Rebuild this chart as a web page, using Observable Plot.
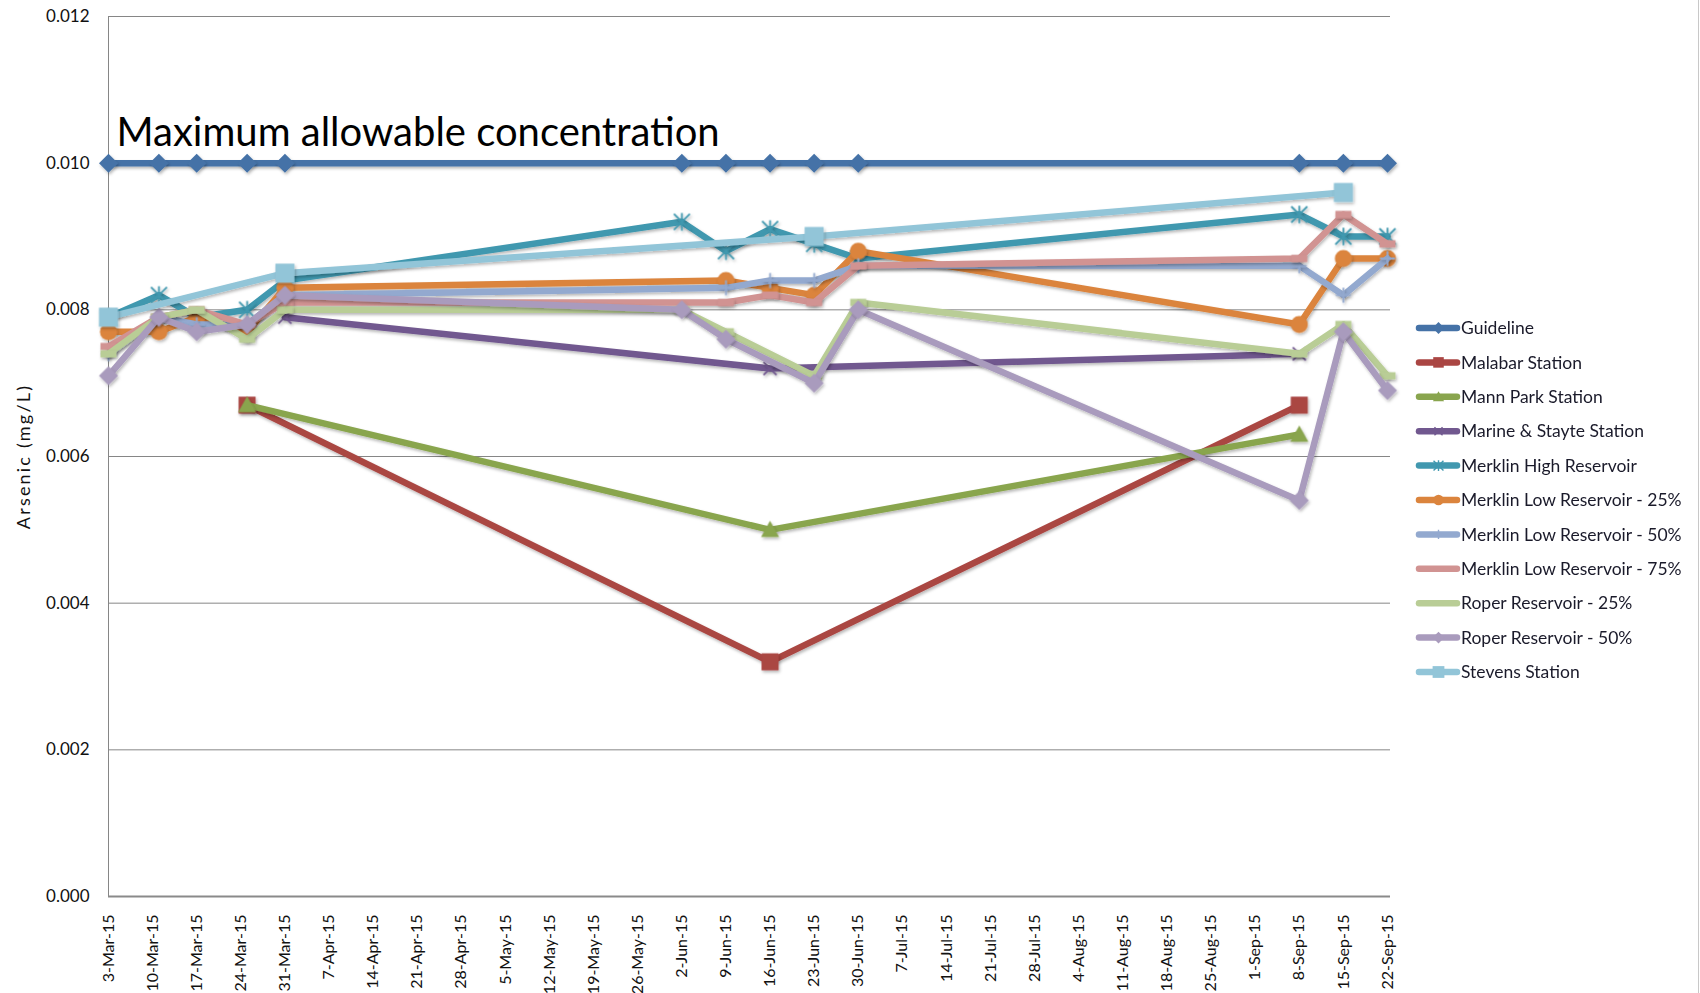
<!DOCTYPE html>
<html>
<head>
<meta charset="utf-8">
<script src="https://cdn.jsdelivr.net/npm/d3@7"></script>
<script src="https://cdn.jsdelivr.net/npm/@observablehq/plot@0.6"></script>
<style>
  html, body { margin: 0; padding: 0; background: #ffffff; }
  #chart { position: relative; width: 1700px; height: 993px; overflow: hidden; }
  svg { display: block; }
</style>
</head>
<body>
<div id="chart"></div>
<script>
// Sampling dates (arsenic measurements, 2015)
const sampleDates = ["2015-03-03", "2015-03-11", "2015-03-17", "2015-03-25", "2015-03-31",
  "2015-06-02", "2015-06-09", "2015-06-16", "2015-06-23", "2015-06-30",
  "2015-09-08", "2015-09-15", "2015-09-22"];

// Arsenic (mg/L) per site, one value per sampling date (null = not sampled)
const guideline      = [0.010, 0.010, 0.010, 0.010, 0.010, 0.010, 0.010, 0.010, 0.010, 0.010, 0.010, 0.010, 0.010];
const malabar        = [null, null, null, 0.0067, null, null, null, 0.0032, null, null, 0.0067, null, null];
const mannPark       = [null, null, null, 0.0067, null, null, null, 0.0050, null, null, 0.0063, null, null];
const marineStayte   = [null, null, null, null, 0.0079, null, null, 0.0072, null, null, 0.0074, null, null];
const merklinHigh    = [0.0079, 0.0082, 0.0079, 0.0080, 0.0084, 0.0092, 0.0088, 0.0091, 0.0089, 0.0087, 0.0093, 0.0090, 0.0090];
const merklinLow25   = [0.0077, 0.0077, 0.0079, 0.0077, 0.0083, null, 0.0084, 0.0083, 0.0082, 0.0088, 0.0078, 0.0087, 0.0087];
const merklinLow50   = [0.0074, 0.0079, 0.0078, 0.0078, 0.0082, null, 0.0083, 0.0084, 0.0084, 0.0086, 0.0086, 0.0082, 0.0087];
const merklinLow75   = [0.0075, 0.0079, 0.0080, 0.0078, 0.0081, null, 0.0081, 0.0082, 0.0081, 0.0086, 0.0087, 0.0093, 0.0089];
const roper25        = [0.0074, 0.0079, 0.0080, 0.0076, 0.0080, 0.0080, 0.0077, null, 0.0071, 0.0081, 0.0074, 0.0078, 0.0071];
const roper50        = [0.0071, 0.0079, 0.0077, 0.0078, 0.0082, 0.0080, 0.0076, null, 0.0070, 0.0080, 0.0054, 0.0077, 0.0069];
const stevens        = [0.0079, null, null, null, 0.0085, null, null, null, 0.0090, null, null, 0.0096, null];

// Axis ticks
const xTickLabels = ["3-Mar-15", "10-Mar-15", "17-Mar-15", "24-Mar-15", "31-Mar-15", "7-Apr-15", "14-Apr-15",
  "21-Apr-15", "28-Apr-15", "5-May-15", "12-May-15", "19-May-15", "26-May-15", "2-Jun-15", "9-Jun-15",
  "16-Jun-15", "23-Jun-15", "30-Jun-15", "7-Jul-15", "14-Jul-15", "21-Jul-15", "28-Jul-15", "4-Aug-15",
  "11-Aug-15", "18-Aug-15", "25-Aug-15", "1-Sep-15", "8-Sep-15", "15-Sep-15", "22-Sep-15"];
const yTicks = [0, 0.002, 0.004, 0.006, 0.008, 0.010, 0.012];

const yLabel = "Arsenic (mg/L)";
const guideNote = "Maximum allowable concentration";

// Marker shapes, all sized from the side length (sqrt of symbol size)
const shapes = {
  diamond: { draw(c, size) { const s = Math.sqrt(size) / 2; c.moveTo(0, -s); c.lineTo(s, 0); c.lineTo(0, s); c.lineTo(-s, 0); c.closePath(); } },
  square: { draw(c, size) { const s = Math.sqrt(size) / 2; c.rect(-s, -s, 2 * s, 2 * s); } },
  triangle: { draw(c, size) { const s = Math.sqrt(size) / 2; c.moveTo(0, -s); c.lineTo(s, s * 0.8); c.lineTo(-s, s * 0.8); c.closePath(); } },
  circle: { draw(c, size) { const s = Math.sqrt(size) / 2; c.moveTo(s, 0); c.arc(0, 0, s, 0, 2 * Math.PI); } },
  times: { draw(c, size) { const s = Math.sqrt(size) / 2; c.moveTo(-s, -s); c.lineTo(s, s); c.moveTo(s, -s); c.lineTo(-s, s); } },
  asterisk: { draw(c, size) { const s = Math.sqrt(size) / 2; c.moveTo(-s, -s); c.lineTo(s, s); c.moveTo(s, -s); c.lineTo(-s, s); c.moveTo(0, -s * 1.1); c.lineTo(0, s * 1.1); } },
  plus: { draw(c, size) { const s = Math.sqrt(size) / 2; c.moveTo(0, -s); c.lineTo(0, s); c.moveTo(-s, 0); c.lineTo(s, 0); } },
  dash: { draw(c, size) { const s = Math.sqrt(size) / 2; c.rect(-s, -s * 0.45, 2 * s, s * 0.9); } }
};

const series = [
  { name: "Guideline", values: guideline, color: "#4572A7", shape: "diamond", side: 19, filled: true },
  { name: "Malabar Station", values: malabar, color: "#AA4643", shape: "square", side: 17, filled: true },
  { name: "Mann Park Station", values: mannPark, color: "#89A54E", shape: "triangle", side: 18, filled: true },
  { name: "Marine & Stayte Station", values: marineStayte, color: "#71588F", shape: "times", side: 13, filled: false },
  { name: "Merklin High Reservoir", values: merklinHigh, color: "#4198AF", shape: "asterisk", side: 16, filled: false },
  { name: "Merklin Low Reservoir - 25%", values: merklinLow25, color: "#DB843D", shape: "circle", side: 17, filled: true },
  { name: "Merklin Low Reservoir - 50%", values: merklinLow50, color: "#93A9CF", shape: "plus", side: 15, filled: false },
  { name: "Merklin Low Reservoir - 75%", values: merklinLow75, color: "#D19392", shape: "dash", side: 16, filled: true },
  { name: "Roper Reservoir - 25%", values: roper25, color: "#B9CD96", shape: "dash", side: 16, filled: true },
  { name: "Roper Reservoir - 50%", values: roper50, color: "#A99BBD", shape: "diamond", side: 19, filled: true },
  { name: "Stevens Station", values: stevens, color: "#92C5D8", shape: "square", side: 19, filled: true }
];

const parseIso = d3.utcParse("%Y-%m-%d");
const parseTick = d3.utcParse("%d-%b-%y");
const dates = sampleDates.map(parseIso);
const tickDates = xTickLabels.map(parseTick);
const tickLabelByTime = new Map(tickDates.map((d, i) => [+d, xTickLabels[i]]));

// Long table per series (gaps are bridged, as in the source workbook)
const rows = s => s.values.map((v, i) => ({ date: dates[i], value: v, name: s.name })).filter(d => d.value != null);

const FONT = "Lato, 'Open Sans', sans-serif";
const rFor = side => side / Math.sqrt(Math.PI);

const marks = [
  Plot.ruleY(yTicks.filter(t => t > 0), { stroke: "#868686", strokeWidth: 1 }),
  Plot.ruleX([tickDates[0]], { stroke: "#868686", strokeWidth: 1 }),
  Plot.ruleY([0], { stroke: "#8a8a8a", strokeWidth: 2 }),
  Plot.axisY({ ticks: yTicks, tickFormat: d3.format(".3f"), tickSize: 0, tickPadding: 19, label: null, fontSize: 17, fill: "#111" }),
  Plot.axisX({ ticks: tickDates, tickFormat: d => tickLabelByTime.get(+d), tickRotate: -90, tickSize: 0, tickPadding: 18, label: null, fontSize: 16, fill: "#111" }),
  Plot.text([yLabel], { y: () => 0.006, frameAnchor: "left", textAnchor: "middle", rotate: -90, dx: -84, fontSize: 18, fill: "#111", fontFamily: FONT, text: d => d }),
  Plot.text([guideNote], { x: () => dates[0], y: () => guideline[0], text: d => d, textAnchor: "start", lineAnchor: "bottom", dx: 8, dy: -17, fontSize: 40, fill: "#000", fontFamily: FONT })
];

for (const s of series) {
  const data = rows(s);
  marks.push(Plot.line(data, { x: "date", y: "value", stroke: s.color, strokeWidth: 6.5, strokeLinejoin: "round", strokeLinecap: "round" }));
  marks.push(Plot.dot(data, s.filled
    ? { x: "date", y: "value", symbol: () => shapes[s.shape], r: rFor(s.side), fill: s.color, stroke: "none" }
    : { x: "date", y: "value", symbol: () => shapes[s.shape], r: rFor(s.side), fill: "none", stroke: s.color, strokeWidth: 1.8 }));
}

const chart = Plot.plot({
  width: 1700,
  height: 993,
  marginLeft: 108,
  marginRight: 310,
  marginTop: 16,
  marginBottom: 97,
  style: { fontFamily: FONT, background: "#ffffff", overflow: "visible" },
  x: { type: "utc", domain: [dates[0], dates[dates.length - 1]], insetRight: 3 },
  y: { domain: [0, 0.012] },
  symbol: { type: "identity" },
  marks
});

const svg = d3.select(chart);

// Axis title letter spacing
svg.selectAll("text").filter(function () { return this.textContent === yLabel; }).attr("letter-spacing", 2.2);

// Soft drop shadow under series lines and markers (user-space region so flat lines keep it)
const defs = svg.insert("defs", ":first-child");
defs.append("filter").attr("id", "soft-shadow").attr("filterUnits", "userSpaceOnUse")
  .attr("x", 0).attr("y", 0).attr("width", 1700).attr("height", 993)
  .append("feDropShadow").attr("dx", 1.2).attr("dy", 2).attr("stdDeviation", 1.4).attr("flood-color", "#000").attr("flood-opacity", 0.28);
svg.selectAll("g[aria-label='line'], g[aria-label='dot']").attr("filter", "url(#soft-shadow)");

// Legend on the right
const legend = svg.append("g").attr("font-family", FONT).attr("font-size", 17.5).attr("text-anchor", "start");
series.forEach((s, i) => {
  const y = 328 + i * 34.4;
  const g = legend.append("g").attr("transform", `translate(0,${y})`);
  g.append("line").attr("x1", 1419).attr("x2", 1457).attr("y1", 0).attr("y2", 0)
    .attr("stroke", s.color).attr("stroke-width", 6.5).attr("stroke-linecap", "round");
  const side = Math.min(s.side * 0.62, 12);
  const p = g.append("path").attr("transform", "translate(1438.5,0)")
    .attr("d", d3.symbol(shapes[s.shape], side * side)());
  if (s.filled) p.attr("fill", s.color); else p.attr("fill", "none").attr("stroke", s.color).attr("stroke-width", 1.4);
  g.append("text").attr("x", 1461).attr("dy", "0.35em").attr("fill", "#1a1a2a").text(s.name);
});

// Chart-area border on the right edge
svg.append("line").attr("x1", 1698.5).attr("x2", 1698.5).attr("y1", 0).attr("y2", 993).attr("stroke", "#c8c8c8");

document.getElementById("chart").appendChild(chart);
</script>
</body>
</html>
